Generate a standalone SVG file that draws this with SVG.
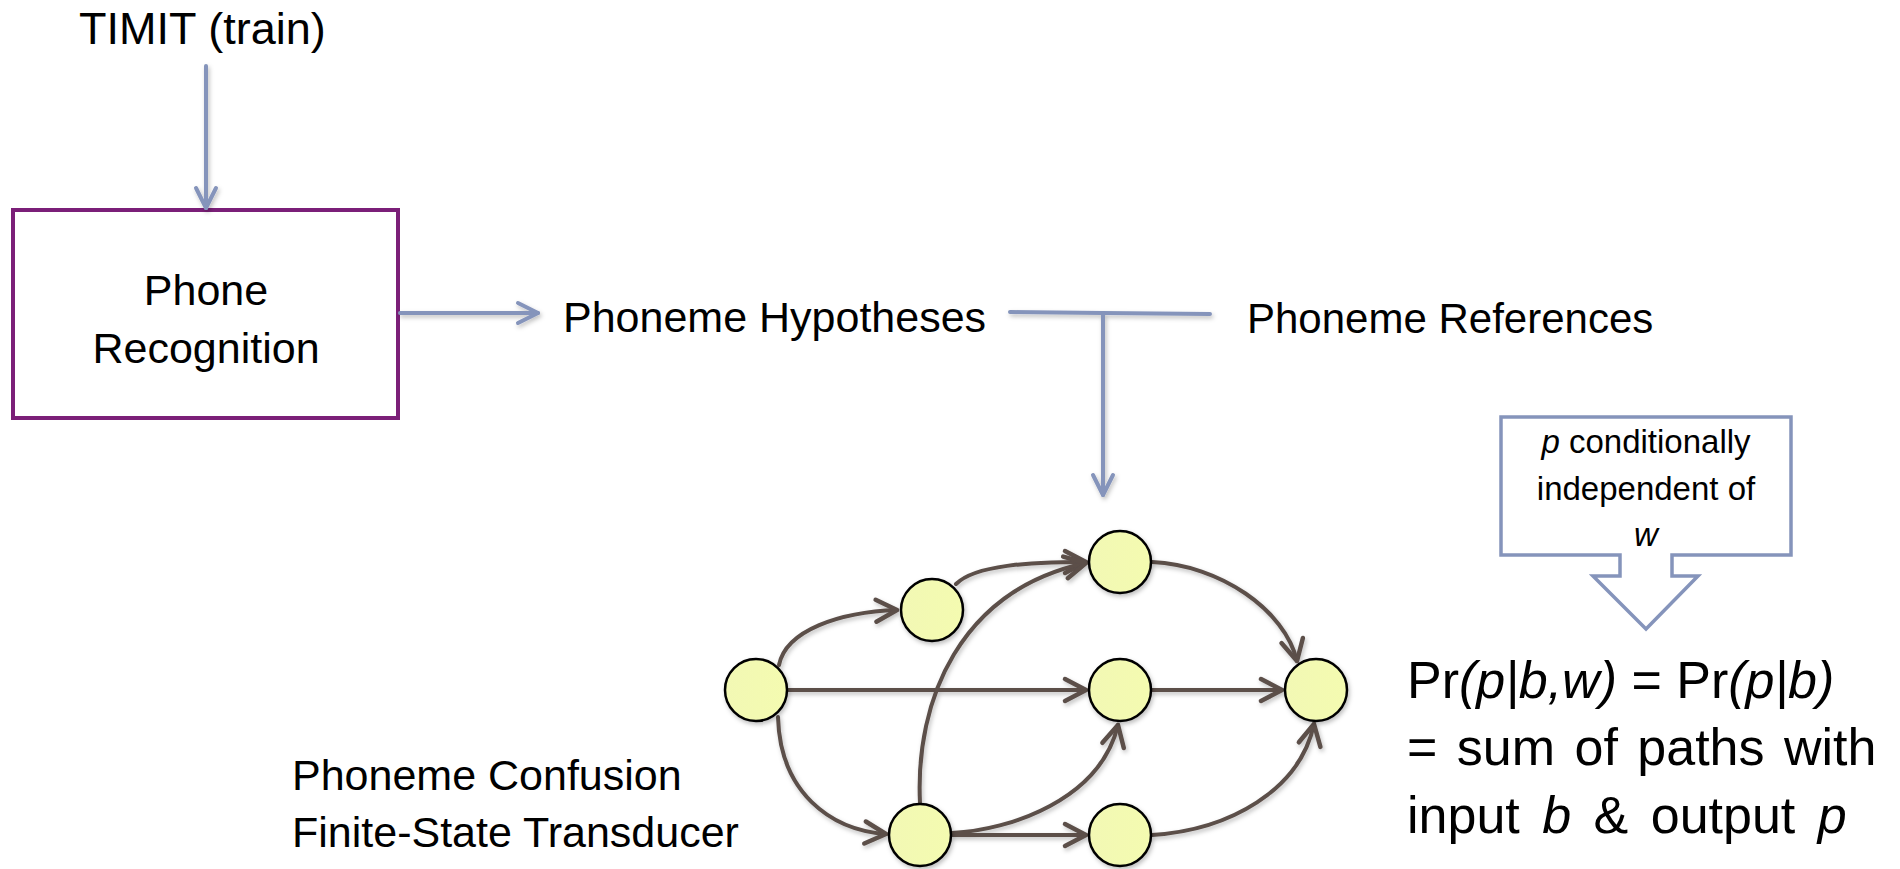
<svg xmlns="http://www.w3.org/2000/svg" width="1900" height="869" viewBox="0 0 1900 869">
<style>
.t{font-family:"Liberation Sans",Arial,sans-serif;fill:#000}
.m{font-size:43px}
.c{font-size:33px}
.f{font-size:52px}
.i{font-style:italic}
.blue{fill:none;stroke:#8594bb;stroke-width:4;stroke-linecap:round}
.edge{fill:none;stroke:#5b4f4a;stroke-width:4;stroke-linecap:round}
.node{fill:url(#ng);stroke:#000;stroke-width:2.5}
</style>
<defs>
<linearGradient id="ng" x1="0" y1="0" x2="1" y2="0">
<stop offset="0" stop-color="#f2f8b4"/>
<stop offset="1" stop-color="#f4fbb0"/>
</linearGradient>
<filter id="sh" x="-20%" y="-20%" width="140%" height="140%">
<feDropShadow dx="1.5" dy="2.5" stdDeviation="2" flood-color="#000" flood-opacity="0.25"/>
</filter>
<marker id="ba" markerUnits="userSpaceOnUse" viewBox="-26 -14 30 28" refX="0" refY="0" markerWidth="30" markerHeight="28" orient="auto">
<path d="M-20,-10 L0,0 L-20,10" fill="none" stroke="#8594bb" stroke-width="4" stroke-linecap="round" stroke-linejoin="round"/>
</marker>
<marker id="ea" markerUnits="userSpaceOnUse" viewBox="-28 -15 32 30" refX="0" refY="0" markerWidth="32" markerHeight="30" orient="auto">
<path d="M-21,-11 L0,0 L-21,11" fill="none" stroke="#5b4f4a" stroke-width="4.5" stroke-linecap="round" stroke-linejoin="round"/>
</marker>
</defs>
<rect width="1900" height="869" fill="#fff"/>

<g id="timit"><text class="t" x="79" y="44" font-size="45">TIMIT (train)</text></g>

<g id="phone-recognition">
<rect x="13" y="210" width="385" height="208" fill="#fff" stroke="#7b1f78" stroke-width="4"/>
<text class="t m" x="206" y="305" text-anchor="middle">Phone</text>
<text class="t m" x="206" y="363" text-anchor="middle">Recognition</text>
</g>

<g id="phoneme-hypotheses"><text class="t m" x="563" y="332">Phoneme Hypotheses</text></g>
<g id="phoneme-references"><text class="t" x="1247" y="333" font-size="42">Phoneme References</text></g>

<g id="fst-label">
<text class="t m" x="292" y="790">Phoneme Confusion</text>
<text class="t m" x="292" y="847">Finite-State Transducer</text>
</g>

<g id="callout">
<path d="M1501,417 H1791 V555 H1672 V576 H1698 L1646,629 L1593,576 H1620 V555 H1501 Z" fill="#fff" stroke="#8594bb" stroke-width="3.5" stroke-linejoin="miter"/>
<text class="t c" x="1646" y="453" text-anchor="middle"><tspan class="i">p</tspan> conditionally</text>
<text class="t c" x="1646" y="500" text-anchor="middle">independent of</text>
<text class="t c i" x="1646" y="546" text-anchor="middle">w</text>
</g>

<g id="formula">
<text class="t f" x="1407" y="698">Pr<tspan class="i">(p|b,w)</tspan> = Pr<tspan class="i">(p|b)</tspan></text>
<text class="t f" x="1407" y="765" word-spacing="5">= sum of paths with</text>
<text class="t f" x="1407" y="833" word-spacing="8">input <tspan class="i">b</tspan> &amp; output <tspan class="i">p</tspan></text>
</g>

<g id="connectors">
<g filter="url(#sh)">
<line class="blue" x1="206" y1="66" x2="206" y2="208" marker-end="url(#ba)"/>
<line class="blue" x1="400" y1="313" x2="538" y2="313" marker-end="url(#ba)"/>
<path class="blue" d="M1010,312 L1103,313 L1210,314"/>
<line class="blue" x1="1103" y1="313" x2="1103" y2="495" marker-end="url(#ba)"/>
</g>
<g filter="url(#sh)">
<path class="edge" d="M779,665 C786,630 840,612 897,610" marker-end="url(#ea)"/>
<path class="edge" d="M787,690 L1086,690" marker-end="url(#ea)"/>
<path class="edge" d="M778,717 C780,792 830,830 886,834" marker-end="url(#ea)"/>
<path class="edge" d="M956,584 C975,565 1030,562 1086,562" marker-end="url(#ea)"/>
<path class="edge" d="M920,803 C915,700 960,590 1086,563" marker-end="url(#ea)"/>
<path class="edge" d="M1152,562 C1220,565 1285,610 1297,661" marker-end="url(#ea)"/>
<path class="edge" d="M1151,690 L1282,690" marker-end="url(#ea)"/>
<path class="edge" d="M952,833 C1010,830 1100,800 1118,725" marker-end="url(#ea)"/>
<path class="edge" d="M952,835 L1086,835" marker-end="url(#ea)"/>
<path class="edge" d="M1152,835 C1230,830 1300,790 1314,724" marker-end="url(#ea)"/>
</g>
</g>

<g id="n-a"><circle class="node" cx="756" cy="690" r="31" filter="url(#sh)"/></g>
<g id="n-b"><circle class="node" cx="932" cy="610" r="31" filter="url(#sh)"/></g>
<g id="n-c"><circle class="node" cx="920" cy="835" r="31" filter="url(#sh)"/></g>
<g id="n-d"><circle class="node" cx="1120" cy="562" r="31" filter="url(#sh)"/></g>
<g id="n-e"><circle class="node" cx="1120" cy="690" r="31" filter="url(#sh)"/></g>
<g id="n-f"><circle class="node" cx="1316" cy="690" r="31" filter="url(#sh)"/></g>
<g id="n-g"><circle class="node" cx="1120" cy="835" r="31" filter="url(#sh)"/></g>
</svg>
